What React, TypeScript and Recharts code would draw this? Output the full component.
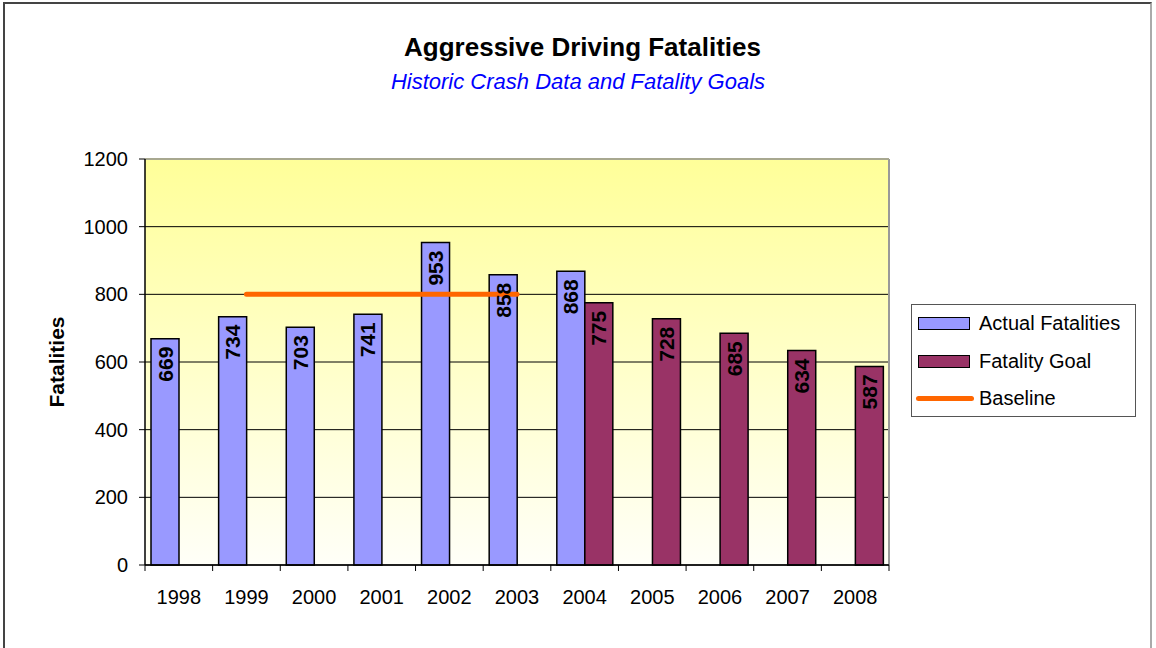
import React from 'react';
import {
  ComposedChart,
  Bar,
  Line,
  XAxis,
  YAxis,
  CartesianGrid,
  LabelList,
  ReferenceLine,
} from 'recharts';

const years = ['1998', '1999', '2000', '2001', '2002', '2003', '2004', '2005', '2006', '2007', '2008'];
const actualFatalities = [669, 734, 703, 741, 953, 858, 868, null, null, null, null];
const fatalityGoal = [null, null, null, null, null, null, 775, 728, 685, 634, 587];
const baseline = [null, 800, 800, 800, 800, 800, null, null, null, null, null];
const yTicks = [0, 200, 400, 600, 800, 1000, 1200];

const data = years.map((year, i) => ({
  year,
  actual: actualFatalities[i],
  goal: fatalityGoal[i],
  baseline: baseline[i],
}));

const W = 1156;
const H = 648;
const PLOT_LEFT = 145;
const PLOT_RIGHT = 889;
const PLOT_TOP = 159;
const PLOT_BOTTOM = 565;
const Y_AXIS_W = 60;
const X_AXIS_H = 40;
const BAND = (PLOT_RIGHT - PLOT_LEFT) / years.length;

const FONT = '"Liberation Sans", Arial, sans-serif';

const ACTUAL_COLOR = '#9999FF';
const GOAL_COLOR = '#993366';
const BASELINE_COLOR = '#FF6600';

// value written sideways just under the top of each bar
const BarValue = (props: any) => {
  const { x, y, width, value } = props;
  if (value == null) return null;
  const cx = Number(x) + Number(width) / 2;
  const top = Number(y) + 8;
  return (
    <text
      transform={`translate(${cx},${top}) rotate(-90)`}
      textAnchor="end"
      dominantBaseline="central"
      fontFamily={FONT}
      fontWeight="bold"
      fontSize={21}
      fill="#000"
    >
      {value}
    </text>
  );
};

// year label plus a tick mark on the category boundary
const YearTick = (props: any) => {
  const { x, y, payload, index } = props;
  const left = x - BAND / 2;
  return (
    <g>
      <line x1={left} x2={left} y1={y} y2={y + 6} stroke="#000" strokeWidth={1} />
      {index === years.length - 1 && (
        <line x1={left + BAND} x2={left + BAND} y1={y} y2={y + 6} stroke="#000" strokeWidth={1} />
      )}
      <text x={x} y={y + 39} textAnchor="middle" fontFamily={FONT} fontSize={20} fill="#000">
        {payload.value}
      </text>
    </g>
  );
};

const legendItems = [
  { label: 'Actual Fatalities', kind: 'bar', color: ACTUAL_COLOR },
  { label: 'Fatality Goal', kind: 'bar', color: GOAL_COLOR },
  { label: 'Baseline', kind: 'line', color: BASELINE_COLOR },
];

const LegendBox = () => (
  <div
    style={{
      position: 'absolute',
      left: 911,
      top: 304,
      width: 225,
      height: 113,
      boxSizing: 'border-box',
      border: '1px solid #555',
      background: '#fff',
      padding: '0 0 0 5px',
      fontFamily: FONT,
      fontSize: 20,
      color: '#000',
    }}
  >
    {legendItems.map((item) => (
      <div key={item.label} style={{ display: 'flex', alignItems: 'center', height: 37.5 }}>
        <div style={{ width: 62, display: 'flex', alignItems: 'center', justifyContent: 'center' }}>
          {item.kind === 'bar' ? (
            <div
              style={{
                width: 50,
                height: 11,
                background: item.color,
                border: '1.5px solid #000',
                marginLeft: -8,
              }}
            />
          ) : (
            <div
              style={{
                width: 58,
                height: 5,
                borderRadius: 3,
                background: item.color,
                marginLeft: -6,
              }}
            />
          )}
        </div>
        <span>{item.label}</span>
      </div>
    ))}
  </div>
);

export default function App() {
  return (
    <div style={{ position: 'relative', width: W, height: H, background: '#fff', overflow: 'hidden' }}>
      <style>{'body{margin:0}'}</style>
      <div
        style={{
          position: 'absolute',
          left: 3,
          top: 2,
          width: 1149,
          height: 700,
          borderLeft: '2px solid #444',
          borderTop: '2px solid #444',
          borderRight: '2px solid #aaa',
          boxSizing: 'border-box',
        }}
      />
      <div
        style={{
          position: 'absolute',
          left: 0,
          width: 1165,
          top: 32,
          textAlign: 'center',
          fontFamily: FONT,
          fontWeight: 'bold',
          fontSize: 26,
          color: '#000',
        }}
      >
        Aggressive Driving Fatalities
      </div>
      <div
        style={{
          position: 'absolute',
          left: 0,
          width: 1156,
          top: 69,
          textAlign: 'center',
          fontFamily: FONT,
          fontStyle: 'italic',
          fontSize: 22,
          color: '#0000FF',
        }}
      >
        Historic Crash Data and Fatality Goals
      </div>
      <div
        style={{
          position: 'absolute',
          left: 57,
          top: 362,
          transform: 'translate(-50%, -50%) rotate(-90deg)',
          fontFamily: FONT,
          fontWeight: 'bold',
          fontSize: 21,
          color: '#000',
          whiteSpace: 'nowrap',
        }}
      >
        Fatalities
      </div>
      <div style={{ position: 'absolute', left: 0, top: 0 }}>
        <ComposedChart
          width={W}
          height={H}
          data={data}
          margin={{
            top: PLOT_TOP,
            right: W - PLOT_RIGHT,
            bottom: H - PLOT_BOTTOM - X_AXIS_H,
            left: PLOT_LEFT - Y_AXIS_W,
          }}
          barCategoryGap={6}
          barGap={0}
        >
          <defs>
            <linearGradient id="plotFill" x1="0" y1="0" x2="0" y2="1">
              <stop offset="0%" stopColor="#FFFF99" />
              <stop offset="100%" stopColor="#FFFFF8" />
            </linearGradient>
          </defs>
          <CartesianGrid
            vertical={false}
            stroke="#000"
            strokeWidth={1}
            fill="url(#plotFill)"
            fillOpacity={1}
          />
          <CartesianGrid
            horizontal={false}
            stroke="#999"
            strokeWidth={2}
            verticalCoordinatesGenerator={({ offset }: any) => [offset.left + offset.width]}
          />
          {/* plot frame along the top edge is grey, not black */}
          <ReferenceLine y={1200} stroke="#a8a890" strokeWidth={2} />
          <XAxis
            dataKey="year"
            height={X_AXIS_H}
            axisLine={{ stroke: '#000', strokeWidth: 1.5 }}
            tickLine={false}
            tickSize={0}
            tickMargin={0}
            tick={<YearTick />}
            interval={0}
          />
          <YAxis
            width={Y_AXIS_W}
            domain={[0, 1200]}
            ticks={yTicks}
            interval={0}
            axisLine={{ stroke: '#000', strokeWidth: 1.5 }}
            tickLine={{ stroke: '#000' }}
            tickSize={6}
            tickMargin={11}
            tick={{ fontFamily: FONT, fontSize: 20, fill: '#000' }}
          />
          <Bar
            dataKey="actual"
            name="Actual Fatalities"
            fill={ACTUAL_COLOR}
            stroke="#000"
            strokeWidth={1.5}
            isAnimationActive={false}
          >
            <LabelList dataKey="actual" content={<BarValue />} />
          </Bar>
          <Bar
            dataKey="goal"
            name="Fatality Goal"
            fill={GOAL_COLOR}
            stroke="#000"
            strokeWidth={1.5}
            isAnimationActive={false}
          >
            <LabelList dataKey="goal" content={<BarValue />} />
          </Bar>
          <Line
            dataKey="baseline"
            name="Baseline"
            stroke={BASELINE_COLOR}
            strokeWidth={5}
            strokeLinecap="round"
            dot={false}
            activeDot={false}
            connectNulls={false}
            isAnimationActive={false}
          />
        </ComposedChart>
      </div>
      <LegendBox />
    </div>
  );
}
